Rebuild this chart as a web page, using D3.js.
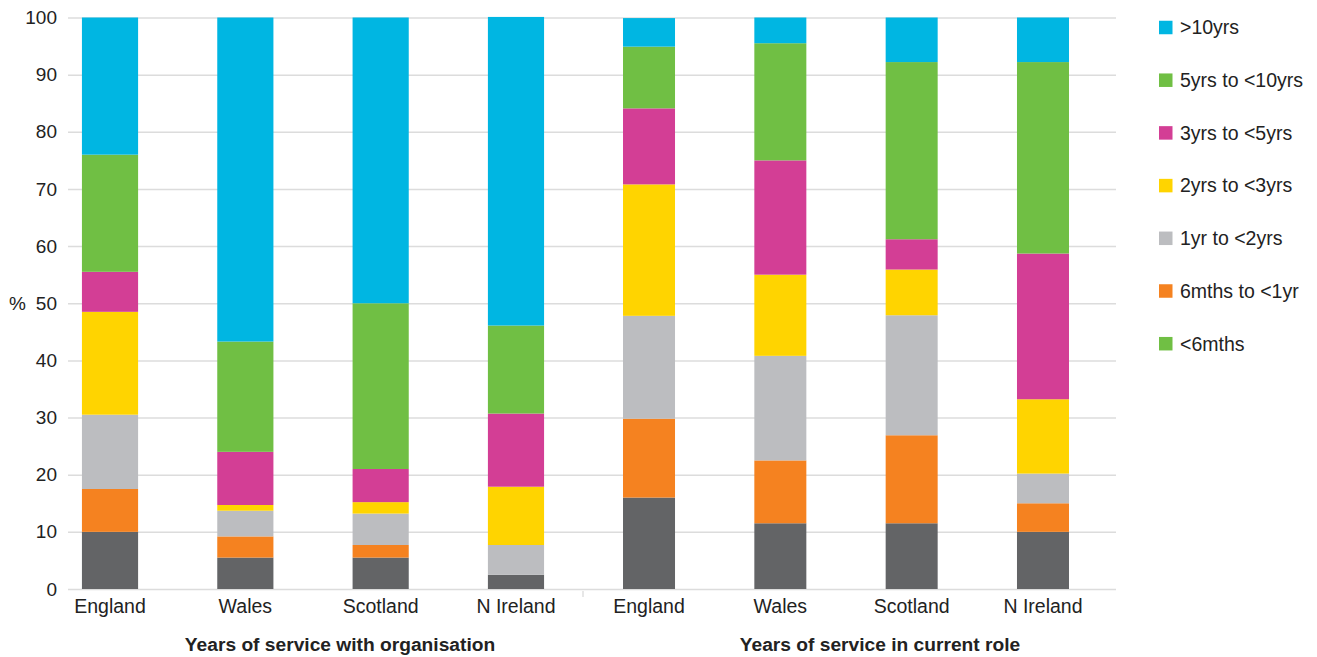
<!DOCTYPE html>
<html>
<head>
<meta charset="utf-8">
<script src="https://cdn.jsdelivr.net/npm/d3@7"></script>
<style>
  html, body { margin: 0; padding: 0; background: #fff; }
  svg { display: block; }
  text { font-family: "Liberation Sans", Arial, Helvetica, sans-serif; fill: #222; }
</style>
</head>
<body>
<svg id="chart" width="1317" height="657"></svg>
<script>
// ---- Data ----
const countries = ["England", "Wales", "Scotland", "N Ireland"];
const groups = ["Years of service with organisation", "Years of service in current role"];
const seriesNames = [">10yrs", "5yrs to <10yrs", "3yrs to <5yrs", "2yrs to <3yrs", "1yr to <2yrs", "6mths to <1yr", "<6mths"];
const yTicks = [0, 10, 20, 30, 40, 50, 60, 70, 80, 90, 100];

// Values per bar: first 4 = organisation (England, Wales, Scotland, N Ireland), last 4 = current role
const under6mths   = [10,   5.5,  5.5,  2.5,  16,   11.5, 11.5, 10];
const m6to1yr      = [7.5,  3.7,  2.2,  0,    13.8, 11,   15.4, 5];
const yr1to2       = [13,   4.5,  5.5,  5.2,  18,   18.3, 21,   5.2];
const yrs2to3      = [18,   1,    2,    10.2, 23,   14.2, 8,    13];
const yrs3to5      = [7,    9.3,  5.8,  12.8, 13.3, 20,   5.3,  25.5];
const yrs5to10     = [20.5, 19.3, 29,   15.4, 10.8, 20.5, 31,   33.5];
const over10yrs    = [24,   56.7, 50,   54,   5,    4.5,  7.8,  7.8];

// stacking order bottom -> top
const stackKeys = ["<6mths", "6mths to <1yr", "1yr to <2yrs", "2yrs to <3yrs", "3yrs to <5yrs", "5yrs to <10yrs", ">10yrs"];
const stackArrays = [under6mths, m6to1yr, yr1to2, yrs2to3, yrs3to5, yrs5to10, over10yrs];

const barColors = {
  ">10yrs": "#00b6e2",
  "5yrs to <10yrs": "#70bf44",
  "3yrs to <5yrs": "#d33e95",
  "2yrs to <3yrs": "#ffd400",
  "1yr to <2yrs": "#bcbdc0",
  "6mths to <1yr": "#f58220",
  "<6mths": "#636466"
};
const legendColors = {
  ">10yrs": "#00b6e2",
  "5yrs to <10yrs": "#70bf44",
  "3yrs to <5yrs": "#d33e95",
  "2yrs to <3yrs": "#ffd400",
  "1yr to <2yrs": "#bcbdc0",
  "6mths to <1yr": "#f58220",
  "<6mths": "#70bf44"
};

// ---- Build table ----
const rows = [];
for (let g = 0; g < groups.length; g++) {
  countries.forEach((c, i) => {
    const idx = g * countries.length + i;
    const row = { group: g, country: c };
    stackKeys.forEach((k, j) => { row[k] = stackArrays[j][idx]; });
    rows.push(row);
  });
}

const svg = d3.select("#chart");

const gridLeft = 68, gridRight = 1116;
const y = d3.scaleLinear().domain([0, 100]).range([589, 17.5]);

const xScales = [
  d3.scaleBand().domain(countries).range([42.35, 583.65]).paddingInner(0.585).paddingOuter(0.2925),
  d3.scaleBand().domain(countries).range([583.35, 1108.65]).paddingInner(0.604).paddingOuter(0.302)
];

// Gridlines + y labels
const yAxis = d3.axisLeft(y).tickValues(yTicks).tickSize(-(gridRight - gridLeft)).tickPadding(11);
const yg = svg.append("g").attr("transform", `translate(${gridLeft},0)`).call(yAxis);
yg.select(".domain").remove();
yg.selectAll(".tick line").attr("stroke", "#dcdcdc").attr("stroke-width", 1.5);
yg.selectAll(".tick text").style("font-size", "19px").attr("fill", "#222");

svg.append("text").attr("x", 9).attr("y", y(50)).attr("dy", "0.35em")
  .style("font-size", "19px").text("%");

// Bars
const stack = d3.stack().keys(stackKeys);
const stacked = stack(rows);

svg.append("g").selectAll("g").data(stacked).join("g")
  .attr("fill", d => barColors[d.key])
  .selectAll("rect").data(d => d).join("rect")
  .attr("x", d => xScales[d.data.group](d.data.country))
  .attr("width", d => xScales[d.data.group].bandwidth())
  .attr("y", d => y(d[1]))
  .attr("height", d => Math.max(0, y(d[0]) - y(d[1])));

// Category axes
xScales.forEach((xs, g) => {
  const ax = svg.append("g").attr("transform", `translate(0,${y(0)})`)
    .call(d3.axisBottom(xs).tickSize(0).tickPadding(10));
  ax.select(".domain").remove();
  ax.selectAll(".tick text").style("font-size", "19.5px").attr("fill", "#222");
  svg.append("text")
    .attr("x", g === 0 ? 340 : 880)
    .attr("y", 651)
    .attr("text-anchor", "middle")
    .style("font-size", "19.2px")
    .style("font-weight", "bold")
    .text(groups[g]);
});

// divider tick
svg.append("line").attr("x1", 583).attr("x2", 583).attr("y1", y(0) + 2).attr("y2", y(0) + 8)
  .attr("stroke", "#cfcfcf").attr("stroke-width", 1);

// Legend
const leg = svg.append("g");
seriesNames.forEach((name, i) => {
  const cy = 27.5 + i * 52.7;
  leg.append("rect").attr("x", 1159).attr("y", cy - 6.75).attr("width", 13.5).attr("height", 13.5)
    .attr("fill", legendColors[name]);
  leg.append("text").attr("x", 1180).attr("y", cy).attr("dy", "0.35em")
    .style("font-size", "19.5px").text(name);
});
</script>
</body>
</html>
